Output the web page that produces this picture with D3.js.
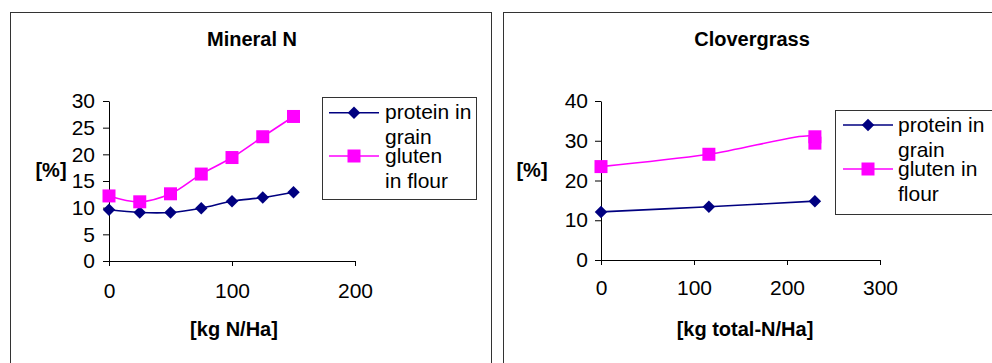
<!DOCTYPE html>
<html>
<head>
<meta charset="utf-8">
<script src="https://cdn.jsdelivr.net/npm/d3@7"></script>
<style>
  body { margin: 0; background: #fff; }
  svg { display: block; }
</style>
</head>
<body>
<div id="chart"></div>
<script>
// Data
var mineralX = [0, 25, 50, 75, 100, 125, 150];
var mineralProtein = [9.6, 9.1, 9.1, 9.9, 11.2, 11.9, 12.9];
var mineralGluten = [12.2, 11.1, 12.6, 16.3, 19.4, 23.3, 27.1];

var cloverProteinX = [0, 116, 230];
var cloverProtein = [12.1, 13.4, 14.8];
var cloverGlutenX = [0, 116, 230, 230];
var cloverGluten = [23.5, 26.6, 31.0, 29.4];

var mineralXTicks = [0, 100, 200];
var mineralYTicks = [0, 5, 10, 15, 20, 25, 30];
var cloverXTicks = [0, 100, 200, 300];
var cloverYTicks = [0, 10, 20, 30, 40];

var legendMineral = [["protein in", "grain"], ["gluten", "in flour"]];
var legendClover = [["protein in", "grain"], ["gluten in", "flour"]];

var font = "Liberation Sans, Arial, sans-serif";
var navy = "#000080", magenta = "#ff00ff";

var svg = d3.select("#chart").append("svg")
    .attr("width", 992)
    .attr("height", 363)
    .attr("font-family", font);

function zip(xs, ys) {
    return xs.map(function (x, i) { return [x, ys[i]]; });
}

function panel(cfg) {
    var g = svg.append("g");

    // frame
    g.append("rect")
        .attr("x", cfg.frame[0] + 0.5).attr("y", 12.5)
        .attr("width", cfg.frame[1] - cfg.frame[0]).attr("height", 400)
        .attr("fill", "none").attr("stroke", "#333").attr("stroke-width", 1);

    var x = d3.scaleLinear().domain(cfg.xDomain).range(cfg.xRange);
    var y = d3.scaleLinear().domain(cfg.yDomain).range(cfg.yRange);

    var yAxis = g.append("g")
        .attr("transform", "translate(" + cfg.xRange[0] + ",0)")
        .call(d3.axisLeft(y).tickValues(cfg.yTicks).tickSize(6).tickPadding(cfg.yPad).tickSizeOuter(0));
    var xAxis = g.append("g")
        .attr("transform", "translate(0," + cfg.yRange[0] + ")")
        .call(d3.axisBottom(x).tickValues(cfg.xTicks).tickSize(5).tickPadding(cfg.xPad).tickSizeOuter(0));

    [xAxis, yAxis].forEach(function (a) {
        a.selectAll("path, line").attr("stroke", "#000").attr("stroke-width", 1);
        a.selectAll("text").attr("font-size", 21).attr("font-family", font).attr("fill", "#000");
    });

    // titles
    g.append("text").attr("x", cfg.titleX).attr("y", 46)
        .attr("text-anchor", "middle").attr("font-weight", "bold").attr("font-size", 20)
        .text(cfg.title);
    g.append("text").attr("x", cfg.xTitleX).attr("y", 336)
        .attr("text-anchor", "middle").attr("font-weight", "bold").attr("font-size", 20)
        .text(cfg.xTitle);
    g.append("text").attr("x", cfg.yTitleX).attr("y", 177)
        .attr("text-anchor", "middle").attr("font-weight", "bold").attr("font-size", 20)
        .text("[%]");

    var line = d3.line()
        .x(function (d) { return x(d[0]); })
        .y(function (d) { return y(d[1]); })
        .curve(d3.curveCatmullRom);

    // diamond = square turned 45deg, square = plain square
    var series = [
        { data: cfg.protein, color: navy, size: 78, rot: 45 },
        { data: cfg.gluten, color: magenta, size: 169, rot: 0 }
    ];
    var marker = function (s) { return d3.symbol().type(d3.symbolSquare).size(s.size)(); };

    series.forEach(function (s) {
        g.append("path").datum(s.data)
            .attr("d", line)
            .attr("fill", "none").attr("stroke", s.color).attr("stroke-width", 1.6);
        g.selectAll(null).data(s.data).enter().append("path")
            .attr("d", marker(s))
            .attr("transform", function (d) { return "translate(" + x(d[0]) + "," + y(d[1]) + ") rotate(" + s.rot + ")"; })
            .attr("fill", s.color);
    });

    // legend
    var lg = cfg.legend;
    g.append("rect")
        .attr("x", lg.box[0] + 0.5).attr("y", lg.box[1] + 0.5)
        .attr("width", lg.box[2]).attr("height", lg.box[3])
        .attr("fill", "#fff").attr("stroke", "#333").attr("stroke-width", 1);

    series.forEach(function (s, i) {
        var ly = lg.lineY[i];
        g.append("line")
            .attr("x1", lg.lineX[0]).attr("x2", lg.lineX[1])
            .attr("y1", ly).attr("y2", ly)
            .attr("stroke", s.color).attr("stroke-width", 1.6);
        g.append("path")
            .attr("d", marker(s))
            .attr("transform", "translate(" + ((lg.lineX[0] + lg.lineX[1]) / 2) + "," + ly + ") rotate(" + s.rot + ")")
            .attr("fill", s.color);
        lg.labels[i].forEach(function (t, j) {
            g.append("text")
                .attr("x", lg.textX).attr("y", lg.baseY[i] + j * 25)
                .attr("font-size", 21)
                .text(t);
        });
    });
}

panel({
    frame: [10, 491],
    title: "Mineral N", titleX: 252,
    xTitle: "[kg N/Ha]", xTitleX: 234,
    yTitleX: 51,
    xDomain: [0, 200], xRange: [109, 355],
    yDomain: [0, 30], yRange: [261, 101],
    xTicks: mineralXTicks, yTicks: mineralYTicks,
    xPad: 17, yPad: 8,
    protein: zip(mineralX, mineralProtein),
    gluten: zip(mineralX, mineralGluten),
    legend: {
        box: [322, 97, 154, 102],
        lineX: [329, 379], lineY: [112.7, 156],
        textX: 385, baseY: [119, 162.5],
        labels: legendMineral
    }
});

panel({
    frame: [503, 1100],
    title: "Clovergrass", titleX: 752,
    xTitle: "[kg total-N/Ha]", xTitleX: 745,
    yTitleX: 532,
    xDomain: [0, 300], xRange: [601, 880],
    yDomain: [0, 40], yRange: [260, 101],
    xTicks: cloverXTicks, yTicks: cloverYTicks,
    xPad: 15, yPad: 7,
    protein: zip(cloverProteinX, cloverProtein),
    gluten: zip(cloverGlutenX, cloverGluten),
    legend: {
        box: [835, 110, 160, 104],
        lineX: [843, 893], lineY: [125, 169],
        textX: 898, baseY: [131.7, 175.7],
        labels: legendClover
    }
});
</script>
</body>
</html>
